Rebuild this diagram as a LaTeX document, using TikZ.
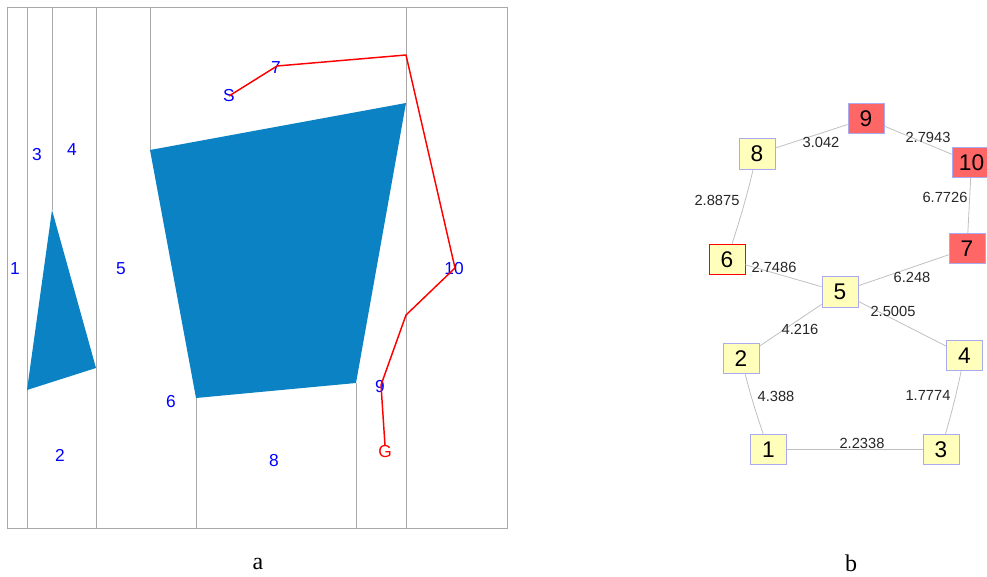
\documentclass[tikz,border=0pt]{standalone}
\usepackage{fontspec}
\setmainfont{Liberation Sans}
\newfontfamily\capfont{Liberation Serif}
\definecolor{obstblue}{HTML}{0B82C4}
\definecolor{hotred}{HTML}{FF6666}
\definecolor{paleyellow}{HTML}{FFFFBB}
\definecolor{boxedge}{HTML}{AAAAEE}
\definecolor{celline}{HTML}{A8A8A8}
\definecolor{graphedge}{HTML}{C0C0C0}
\tikzset{
  cell/.style={text=blue,font=\fontsize{13}{13}\selectfont,inner sep=0pt},
  wayline/.style={red,line width=1.1pt,line join=round},
  room/.style={draw=boxedge,fill=paleyellow,line width=0.6pt,minimum width=27pt,minimum height=23pt,inner sep=0pt,font=\fontsize{17}{17}\selectfont},
  hotroom/.style={room,fill=hotred},
  weight/.style={font=\fontsize{11}{11}\selectfont,text=black!85,inner sep=0pt},
  link/.style={graphedge,line width=0.6pt},
  caption/.style={font=\capfont\fontsize{18}{18}\selectfont,inner sep=0pt}
}
\begin{document}
\begin{tikzpicture}[x=0.75pt,y=-0.75pt]
  \useasboundingbox (0,0) rectangle (987,577);
  % left: decomposition
  \draw[celline,line width=0.7pt] (7,7) rectangle (507,528);
  \foreach \x/\ya/\yb in {27/7/390,52/7/210,96/7/368,150/7/150,406/7/528,27/390/528,96/368/528,196/398/528,356/383/528}
    \draw[celline,line width=0.7pt] (\x,\ya) -- (\x,\yb);
  \fill[obstblue] (150,150) -- (406,103) -- (356,383) -- (196,398) -- cycle;
  \fill[obstblue] (52,210) -- (96,368) -- (27,390) -- cycle;
  \node[cell] (c1) at (15,269) {1};
  \node[cell] (c2) at (60,455) {2};
  \node[cell] (c3) at (37,155) {3};
  \node[cell] (c4) at (72,150) {4};
  \node[cell] (c5) at (121,269) {5};
  \node[cell] (c6) at (171,402) {6};
  \node[cell] (c7) at (276,68) {7};
  \node[cell] (c8) at (274,461) {8};
  \node[cell] (c9) at (380,387) {9};
  \node[cell] (c10) at (454,269) {10};
  \node[cell] (start) at (229,96) {S};
  \node[cell,text=red] (goal) at (385,452) {G};
  \coordinate (p1) at (277,66);
  \coordinate (p2) at (406,55);
  \coordinate (p3) at (455,268);
  \coordinate (p4) at (406,315);
  \coordinate (p5) at (381,385);
  \draw[wayline] (start.center) -- (p1) -- (p2) -- (p3) -- (p4) -- (p5) -- (goal.north);
  \node[caption] (capa) at (258,564) {a};
  % right: graph
  \node[room] (n1) at (768.5,449.5) {1};
  \node[room] (n2) at (741,358.5) {2};
  \node[room] (n3) at (941,449.5) {3};
  \node[room] (n4) at (964.5,355.5) {4};
  \node[room] (n5) at (840,292) {5};
  \node[room,draw=red] (n6) at (727,259.5) {6};
  \node[hotroom] (n7) at (967,248.5) {7};
  \node[room] (n8) at (757,154) {8};
  \node[hotroom] (n9) at (866,118.5) {9};
  \node[hotroom,minimum width=29pt] (n10) at (971.5,162.5) {10};
  \draw[link] (n1) -- (n3);
  \draw[link] (n1) to[bend left=2] (n2);
  \draw[link] (n2) -- (n5);
  \draw[link] (n3) to[bend right=2] (n4);
  \draw[link] (n4) -- (n5);
  \draw[link] (n5) -- (n6);
  \draw[link] (n5) -- (n7);
  \draw[link] (n6) to[bend right=2] (n8);
  \draw[link] (n7) -- (n10);
  \draw[link] (n8) -- (n9);
  \draw[link] (n9) -- (n10);
  \node[weight] (w89) at (821,142) {3.042};
  \node[weight] (w910) at (928,137) {2.7943};
  \node[weight] (w68) at (717,200) {2.8875};
  \node[weight] (w710) at (945,197) {6.7726};
  \node[weight] (w56) at (774,267) {2.7486};
  \node[weight] (w57) at (912,277) {6.248};
  \node[weight] (w45) at (893,311) {2.5005};
  \node[weight] (w25) at (800,329) {4.216};
  \node[weight] (w12) at (776,396) {4.388};
  \node[weight] (w34) at (928,395) {1.7774};
  \node[weight] (w13) at (862,443) {2.2338};
  \node[caption] (capb) at (851,563) {b};
\end{tikzpicture}
\end{document}
